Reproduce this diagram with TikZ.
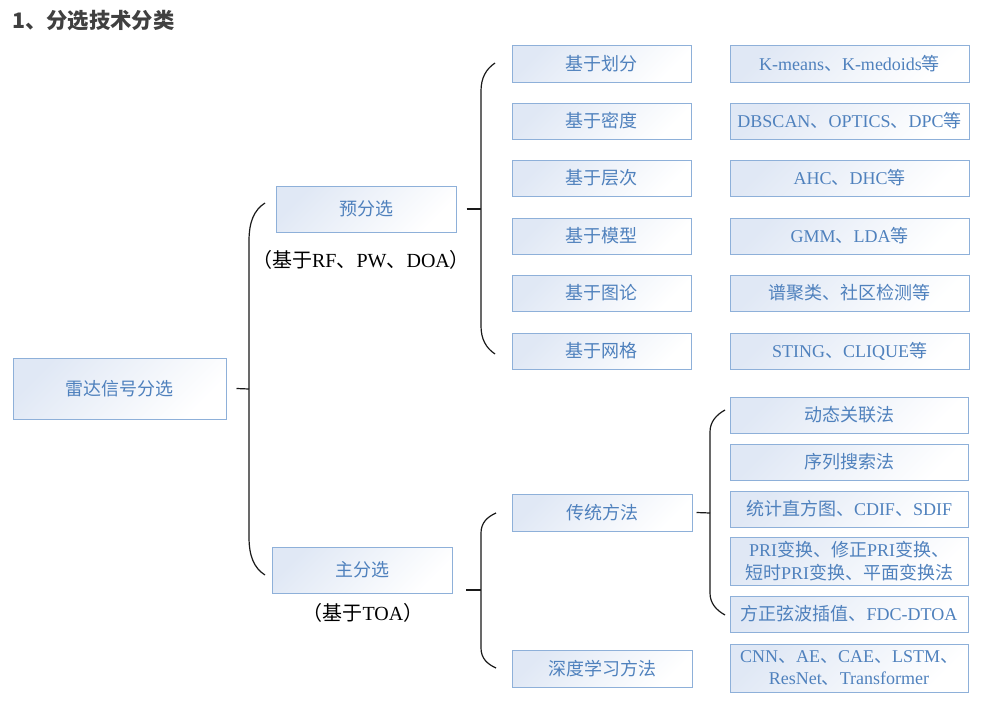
\documentclass[tikz,border=0pt]{standalone}
\usepackage{fontspec}
\setmainfont{Liberation Serif}
\newfontfamily\cjk{Noto Sans CJK SC}
\newcommand\zh[1]{{\cjk#1}}

\definecolor{boxline}{HTML}{8EB0D9}
\definecolor{boxtext}{HTML}{4F81BD}
\definecolor{boxfill}{HTML}{E0E8F5}
\definecolor{titlegray}{HTML}{404040}
\definecolor{linkline}{HTML}{1A1A1A}

\tikzset{
  box/.style={draw=boxline, line width=0.75pt, top color=boxfill, bottom color=white,
    shading angle=45, text=boxtext, inner sep=0pt, align=center,
    font=\fontsize{13.5}{17}\selectfont},
  note/.style={text=black, inner sep=0pt, font=\fontsize{15}{17}\selectfont},
  link/.style={draw=linkline, line width=0.9pt},
}

% box from its corners (x1,y1)-(x2,y2), in pixel units
\newcommand\bx[6]{\node[box, minimum width={(#4-#2)*0.75pt}, minimum height={(#5-#3)*0.75pt}]
  (#1) at ({(#2+#4)/2},{(#3+#5)/2}) {#6};}

\begin{document}
\begin{tikzpicture}[x=0.75pt, y=-0.75pt]
\path[fill=white, use as bounding box] (0,0) rectangle (984,710);

% heading
\node[anchor=west, text=titlegray, inner sep=0pt,
  font=\cjk\bfseries\fontsize{16}{18}\selectfont] (title) at (12,21) {1、分选技术分类};

% level 1 and 2
\bx{root}{13}{358}{226}{419}{\zh{雷达信号分选}}
\bx{pre}{276}{186}{456}{232}{\zh{预分选}}
\bx{main}{272}{547}{452}{593}{\zh{主分选}}
\node[note] (pre-note) at (361,260) {\zh{（基于}RF\zh{、}PW\zh{、}DOA\zh{）}};
\node[note] (main-note) at (363,613) {\zh{（基于}TOA\zh{）}};

% pre-sorting methods
\bx{p1}{512}{46}{691}{82}{\zh{基于划分}}
\bx{p2}{512}{103}{691}{139}{\zh{基于密度}}
\bx{p3}{512}{160}{691}{196}{\zh{基于层次}}
\bx{p4}{512}{218}{691}{254}{\zh{基于模型}}
\bx{p5}{512}{275}{691}{311}{\zh{基于图论}}
\bx{p6}{512}{333}{691}{369}{\zh{基于网格}}

\bx{e1}{730}{46}{969}{82}{K-means\zh{、}K-medoids\zh{等}}
\bx{e2}{730}{103}{969}{139}{DBSCAN\zh{、}OPTICS\zh{、}DPC\zh{等}}
\bx{e3}{730}{160}{969}{196}{AHC\zh{、}DHC\zh{等}}
\bx{e4}{730}{218}{969}{254}{GMM\zh{、}LDA\zh{等}}
\bx{e5}{730}{275}{969}{311}{\zh{谱聚类、社区检测等}}
\bx{e6}{730}{333}{969}{369}{STING\zh{、}CLIQUE\zh{等}}

% main sorting methods
\bx{trad}{512}{494}{692}{531}{\zh{传统方法}}
\bx{deep}{512}{650}{692}{687}{\zh{深度学习方法}}

\bx{t1}{730}{397}{968}{433}{\zh{动态关联法}}
\bx{t2}{730}{444}{968}{480}{\zh{序列搜索法}}
\bx{t3}{730}{491}{968}{527}{\zh{统计直方图、}CDIF\zh{、}SDIF}
\bx{t4}{730}{537}{968}{585}{PRI\zh{变换、修正}PRI\zh{变换、}\\\zh{短时}PRI\zh{变换、平面变换法}}
\bx{t5}{730}{596}{968}{632}{\zh{方正弦波插值、}FDC-DTOA}
\bx{d1}{730}{644}{968}{692}{CNN\zh{、}AE\zh{、}CAE\zh{、}LSTM\zh{、}\\ResNet\zh{、}Transformer}

% bracket ends and spine points
\coordinate (rb-top) at (265,203);
\coordinate (rb-bot) at (265,575);
\coordinate (rb-mid) at (249,389);
\coordinate (pb-top) at (495,63);
\coordinate (pb-bot) at (495,354);
\coordinate (pb-mid) at (481,209);
\coordinate (mb-top) at (496,513);
\coordinate (mb-bot) at (496,668);
\coordinate (mb-mid) at (481,590);
\coordinate (mb-stub) at (466,590);
\coordinate (tb-top) at (725,410);
\coordinate (tb-bot) at (725,615);
\coordinate (tb-mid) at (710,513);

% brackets
\draw[link] (rb-top) .. controls (254,210) and (249,222) .. (249,241) -- (249,537)
  .. controls (249,556) and (254,568) .. (rb-bot);
\draw[link] (pb-top) .. controls (486,69) and (481,78) .. (481,91) -- (481,326)
  .. controls (481,339) and (486,348) .. (pb-bot);
\draw[link] (mb-top) .. controls (487,517) and (481,523) .. (481,533) -- (481,648)
  .. controls (481,658) and (487,664) .. (mb-bot);
\draw[link] (tb-top) .. controls (716,415) and (710,422) .. (710,432) -- (710,593)
  .. controls (710,603) and (716,610) .. (tb-bot);

% stubs from parents to brackets
\draw[link] ([xshift=7.5pt]root.east) -- (rb-mid);
\draw[link] ([xshift=7.5pt]pre.east) -- (pb-mid);
\draw[link] (mb-stub) -- (mb-mid);
\draw[link] ([xshift=3pt]trad.east) -- (tb-mid);
\end{tikzpicture}
\end{document}
